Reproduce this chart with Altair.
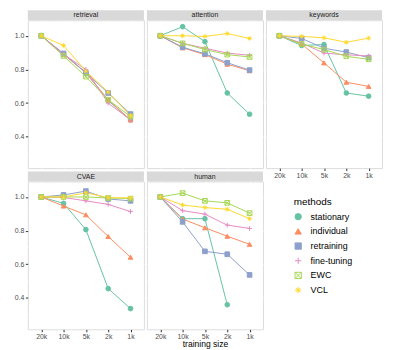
import altair as alt
import pandas as pd

tasks = ["retrieval", "attention", "keywords", "CVAE", "human"]
sizes = ["20k", "10k", "5k", "2k", "1k"]
methods = ["stationary", "individual", "retraining", "fine-tuning", "EWC", "VCL"]
colors = ["#66C2A5", "#FC8D62", "#8DA0CB", "#E78AC3", "#A6D854", "#FFD92F"]

retrieval = {
    "stationary": [1.0, 0.89, 0.78, 0.615, 0.50],
    "individual": [1.0, 0.89, 0.78, 0.62, 0.50],
    "retraining": [1.0, 0.895, 0.78, 0.66, 0.535],
    "fine-tuning": [1.0, 0.89, 0.80, 0.60, 0.50],
    "EWC": [1.0, 0.88, 0.757, 0.62, 0.52],
    "VCL": [1.0, 0.942, 0.79, 0.665, 0.525],
}
attention = {
    "stationary": [1.0, 1.054, 0.965, 0.66, 0.534],
    "individual": [1.0, 0.928, 0.888, 0.831, 0.792],
    "retraining": [1.0, 0.932, 0.893, 0.84, 0.796],
    "fine-tuning": [1.0, 0.955, 0.926, 0.897, 0.884],
    "EWC": [1.0, 0.955, 0.918, 0.888, 0.874],
    "VCL": [1.0, 1.0, 0.996, 1.013, 0.984],
}
keywords = {
    "stationary": [1.0, 0.942, 0.948, 0.66, 0.641],
    "individual": [1.0, 0.951, 0.839, 0.724, 0.699],
    "retraining": [1.0, 0.984, 0.926, 0.903, 0.87],
    "fine-tuning": [1.0, 0.957, 0.897, 0.887, 0.88],
    "EWC": [1.0, 0.951, 0.918, 0.878, 0.86],
    "VCL": [1.0, 0.996, 0.988, 0.961, 0.986],
}
cvae = {
    "stationary": [1.0, 0.962, 0.806, 0.456, 0.337],
    "individual": [1.0, 0.946, 0.894, 0.765, 0.642],
    "retraining": [1.0, 1.012, 1.035, 0.988, 0.977],
    "fine-tuning": [1.0, 0.997, 0.977, 0.956, 0.913],
    "EWC": [1.0, 1.0, 1.0, 0.994, 0.99],
    "VCL": [1.0, 1.0, 1.025, 0.996, 0.994],
}
human = {
    "stationary": [1.0, 0.871, 0.871, 0.36, None],
    "individual": [1.0, 0.869, 0.817, 0.767, 0.719],
    "retraining": [1.0, 0.852, 0.677, 0.66, 0.537],
    "fine-tuning": [1.0, 0.919, 0.898, 0.833, 0.813],
    "EWC": [1.0, 1.023, 0.977, 0.965, 0.904],
    "VCL": [1.0, 0.952, 0.937, 0.927, 0.871],
}
y_ticks = [0.4, 0.6, 0.8, 1.0]
y_minor = [0.3, 0.5, 0.7, 0.9]

task_data = dict(zip(tasks, [retrieval, attention, keywords, cvae, human]))
rows = []
for t in tasks:
    for m in methods:
        for s, v in zip(sizes, task_data[t][m]):
            rows.append({"task": t, "method": m, "size": s, "value": v})
df = pd.DataFrame(rows)

FONT = "Liberation Sans"
W, H = 117, 149
STRIP = 10
PLUS = "M-1,0L1,0M0,-1L0,1"
SQX = "M-1,-1L1,-1L1,1L-1,1ZM-1,-1L1,1M-1,1L1,-1"
AST = "M-1,0L1,0M0,-1L0,1M-0.7,-0.7L0.7,0.7M-0.7,0.7L0.7,-0.7"
shapes = ["circle", "triangle-up", "square", PLUS, SQX, AST]
fills = colors[:3] + ["transparent"] * 3

yscale = alt.Scale(domain=[0.214, 1.092], nice=False, zero=False)
xscale = alt.Scale(type="point", padding=0.6)

legend = alt.Legend(
    title="methods", orient="none", legendX=148, legendY=16,
    titleFont=FONT, titleFontSize=10, titleFontWeight="normal", titleColor="black",
    labelFont=FONT, labelFontSize=9, labelColor="black",
    symbolSize=40, symbolStrokeWidth=1, rowPadding=3.8, labelOffset=8, titlePadding=5,
)


def panel(task, show_y, show_x, x_title, with_legend=False):
    d = df[df.task == task]
    base = alt.Chart(d)
    lg = legend if with_legend else None
    xaxis = alt.Axis(
        labels=show_x, ticks=show_x, domain=False, grid=True, gridColor="white",
        gridWidth=1, labelFont=FONT, labelFontSize=7, labelColor="#4D4D4D",
        tickColor="#333333", tickSize=2.5, labelPadding=1, labelAngle=0,
        title=x_title if x_title else None, titleFont=FONT, titleFontSize=8.6,
        titleFontWeight="normal", titleColor="black", titlePadding=0,
    )
    yaxis = alt.Axis(
        values=y_ticks, format=".1f", labels=show_y, ticks=show_y, domain=False,
        grid=True, gridColor="white", gridWidth=1, labelFont=FONT, labelFontSize=7,
        labelColor="#4D4D4D", tickColor="#333333", tickSize=2.5, labelPadding=1.5,
        title=None,
    )
    x = alt.X("size:N", sort=sizes, scale=xscale, axis=xaxis)
    y = alt.Y("value:Q", scale=yscale, axis=yaxis)
    minor = alt.Chart(pd.DataFrame({"value": y_minor})).mark_rule(
        color="white", strokeWidth=0.5
    ).encode(y=y)
    lines = base.mark_line(strokeWidth=1).encode(
        x=x, y=y,
        color=alt.Color("method:N", scale=alt.Scale(domain=methods, range=colors), legend=None),
        detail="method:N",
    )
    pts = base.mark_point(size=22, strokeWidth=1, opacity=1).encode(
        x=x, y=y,
        stroke=alt.Stroke("method:N", scale=alt.Scale(domain=methods, range=colors), legend=lg),
        fill=alt.Fill("method:N", scale=alt.Scale(domain=methods, range=fills), legend=lg),
        shape=alt.Shape("method:N", scale=alt.Scale(domain=methods, range=shapes), legend=lg),
    )
    sdf = pd.DataFrame({"t": [task]})
    strip = alt.Chart(sdf).mark_rect(color="#D9D9D9").encode(
        x=alt.value(0), x2=alt.value(W), y=alt.value(-STRIP), y2=alt.value(0)
    )
    stext = alt.Chart(sdf).mark_text(
        font=FONT, fontSize=7, color="#1A1A1A", baseline="middle", align="center"
    ).encode(text="t:N", x=alt.value(W / 2), y=alt.value(-STRIP / 2))
    return alt.layer(minor, lines, pts, strip, stext).properties(width=W, height=H)


chart = alt.concat(
    panel("retrieval", True, False, None),
    panel("attention", False, False, None),
    panel("keywords", False, True, None),
    panel("CVAE", True, True, None),
    panel("human", False, True, "training size", with_legend=True),
    columns=3,
    spacing={"row": STRIP + 3.5, "column": 3},
    bounds="flush",
).resolve_legend(
    stroke="independent", fill="independent", shape="independent"
).properties(
    padding={"left": 5, "top": 0, "right": 2, "bottom": 0}
).configure_view(fill="#EBEBEB", stroke=None).configure(font=FONT)

chart.save("out.html", embed_options={"renderer": "svg", "actions": False})
